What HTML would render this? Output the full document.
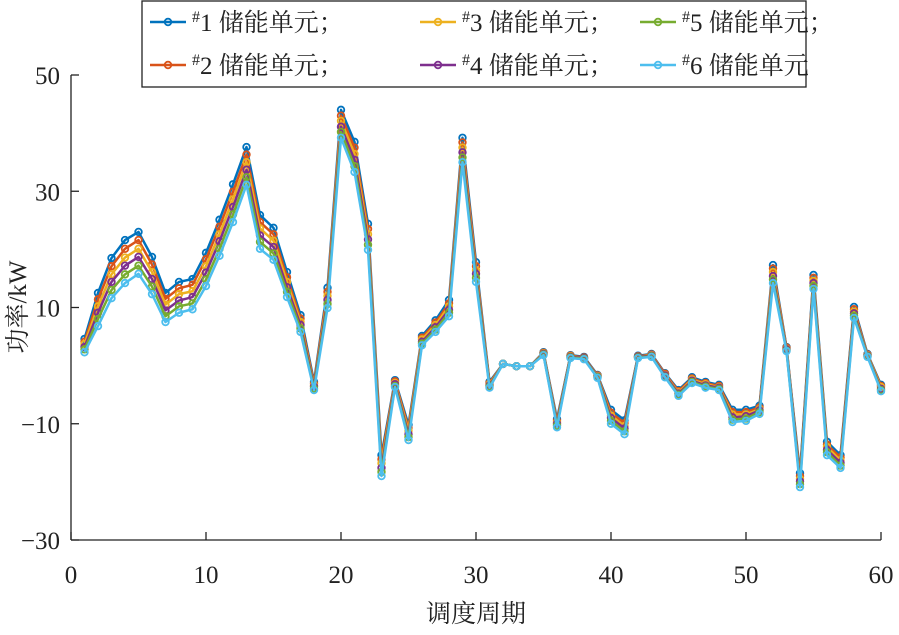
<!DOCTYPE html>
<html><head><meta charset="utf-8"><style>
body{margin:0;background:#fff;}
svg text{font-family:"Liberation Serif","Noto Serif CJK SC","Noto Sans CJK SC",serif;fill:#222;}
</style></head><body>
<svg id="chart" width="899" height="630" viewBox="0 0 899 630" xmlns="http://www.w3.org/2000/svg">
<g id="axes"></g>
<g id="series"></g>
<g id="legend"></g>
</svg>
<script>
const periods = Array.from({length:60},(_,i)=>i+1);
const xTicks = [0,10,20,30,40,50,60];
const yTicks = [50,30,10,-10,-30];
const seriesNames = ["#1 储能单元；","#2 储能单元；","#3 储能单元；","#4 储能单元；","#5 储能单元；","#6 储能单元"];
const unit1 = [4.6,12.5,18.5,21.6,23.0,18.7,12.5,14.4,14.9,19.4,25.1,31.2,37.6,25.9,23.7,16.1,8.7,-2.8,13.4,44.0,38.5,24.4,-15.4,-2.5,-10.2,5.1,7.8,11.3,39.2,17.8,-2.8,0.3,-0.1,-0.1,2.3,-9.2,1.8,1.5,-1.6,-7.6,-9.4,1.7,2.0,-1.3,-4.2,-2.0,-2.8,-3.3,-7.6,-7.6,-6.9,17.3,3.2,-18.5,15.6,-13.1,-15.4,10.1,2.0,-3.3];
const unit2 = [4.1,11.4,17.1,20.1,21.6,17.4,11.5,13.3,13.9,18.3,23.9,29.9,36.3,24.7,22.6,15.2,8.1,-3.1,12.7,43.0,37.5,23.5,-16.1,-2.7,-10.7,4.8,7.4,10.7,38.4,17.1,-3.0,0.3,-0.1,-0.1,2.2,-9.5,1.7,1.4,-1.7,-8.1,-9.9,1.6,1.9,-1.4,-4.4,-2.2,-3.0,-3.5,-8.0,-8.0,-7.2,16.7,3.1,-19.0,15.1,-13.6,-15.8,9.7,1.9,-3.5];
const unit3 = [3.7,10.2,15.7,18.6,20.1,16.1,10.5,12.3,12.8,17.1,22.6,28.6,35.0,23.6,21.5,14.4,7.5,-3.4,12.0,42.1,36.4,22.6,-16.8,-3.0,-11.2,4.5,7.0,10.2,37.5,16.4,-3.2,0.3,-0.1,-0.1,2.1,-9.8,1.6,1.3,-1.8,-8.6,-10.4,1.5,1.8,-1.6,-4.6,-2.4,-3.2,-3.7,-8.4,-8.4,-7.5,16.1,2.9,-19.5,14.6,-14.0,-16.3,9.3,1.8,-3.7];
const unit4 = [3.2,9.1,14.4,17.2,18.7,14.9,9.5,11.2,11.8,16.0,21.4,27.3,33.7,22.4,20.4,13.5,7.0,-3.6,11.3,41.1,35.4,21.7,-17.6,-3.2,-11.8,4.1,6.6,9.6,36.7,15.8,-3.4,0.3,-0.1,-0.1,2.0,-10.0,1.5,1.3,-1.9,-9.0,-10.8,1.5,1.7,-1.7,-4.8,-2.6,-3.4,-3.8,-8.9,-8.7,-7.7,15.4,2.8,-19.9,14.2,-14.5,-16.7,9.0,1.7,-4.0];
const unit5 = [2.8,8.0,13.0,15.7,17.2,13.6,8.5,10.2,10.7,14.8,20.1,26.0,32.4,21.3,19.3,12.7,6.4,-3.9,10.6,40.2,34.3,20.8,-18.3,-3.5,-12.3,3.8,6.2,9.1,35.8,15.1,-3.6,0.3,-0.1,-0.1,1.9,-10.3,1.4,1.2,-2.0,-9.5,-11.3,1.4,1.6,-1.9,-5.0,-2.8,-3.6,-4.0,-9.3,-9.1,-8.0,14.8,2.6,-20.4,13.7,-14.9,-17.2,8.6,1.6,-4.2];
const unit6 = [2.3,6.8,11.6,14.2,15.8,12.3,7.5,9.1,9.7,13.7,18.9,24.7,31.1,20.1,18.2,11.8,5.8,-4.2,9.9,39.2,33.3,19.9,-19.0,-3.7,-12.8,3.5,5.8,8.5,35.0,14.4,-3.8,0.3,-0.1,-0.1,1.8,-10.6,1.3,1.1,-2.1,-10.0,-11.8,1.3,1.5,-2.0,-5.2,-3.0,-3.8,-4.2,-9.7,-9.5,-8.3,14.2,2.5,-20.9,13.2,-15.4,-17.6,8.2,1.5,-4.4];

const allSeries=[unit1,unit2,unit3,unit4,unit5,unit6];
const colors=["#0072BD","#D95319","#EDB120","#7E2F8E","#77AC30","#4DBEEE"];
const NS="http://www.w3.org/2000/svg";
const X0=71,X1=881,Y0=540,Y1=75;
function sx(v){return X0+(v-0)/(60-0)*(X1-X0);}
function sy(v){return Y0-(v+30)/(80)*(Y0-Y1);}
function mk(tag,attrs,parent){const e=document.createElementNS(NS,tag);for(const k in attrs)e.setAttribute(k,attrs[k]);parent.appendChild(e);return e;}
const axes=document.getElementById('axes');
let e=mk('line',{x1:X0,y1:Y1,x2:X0,y2:Y0,stroke:'#222','stroke-width':1.3},axes);


e=mk('line',{x1:X0,y1:Y0,x2:X1,y2:Y0,stroke:'#222','stroke-width':1.3},axes);


xTicks.forEach(t=>{
  const tk=mk('line',{x1:sx(t),y1:Y0,x2:sx(t),y2:Y0-8,stroke:'#222','stroke-width':1.3},axes);
  
  
  const tx=mk('text',{x:sx(t),y:583,'text-anchor':'middle','font-size':25},axes);
  tx.textContent=t;
  
  
});
yTicks.forEach(t=>{
  const tk=mk('line',{x1:X0,y1:sy(t),x2:X0+8,y2:sy(t),stroke:'#222','stroke-width':1.3},axes);
  
  
  const tx=mk('text',{x:60,y:sy(t)+9,'text-anchor':'end','font-size':25},axes);
  tx.textContent=t<0?'\u2212'+Math.abs(t):t;
  
  
});
e=mk('text',{x:476,y:622,'text-anchor':'middle','font-size':25},axes);
e.textContent='调度周期';


e=mk('text',{x:0,y:0,'text-anchor':'middle','font-size':25,transform:'translate(26,307) rotate(-90)'},axes);
e.textContent='功率/kW';



const sg=document.getElementById('series');
allSeries.forEach((arr,si)=>{
  const g=mk('g',{},sg);
  
  
  const pts=arr.map((v,i)=>sx(periods[i])+','+sy(v)).join(' ');
  const pl=mk('polyline',{points:pts,fill:'none',stroke:colors[si],'stroke-width':2.5,'stroke-linejoin':'round'},g);
  
  
  arr.forEach((v,i)=>{
    const c=mk('circle',{cx:sx(periods[i]),cy:sy(v),r:3.3,fill:'none',stroke:colors[si],'stroke-width':1.8},g);
    
    
  });
});

const lg=document.getElementById('legend');
e=mk('rect',{x:142,y:1,width:664,height:86,fill:'#fff',stroke:'#222','stroke-width':1.3},lg);


const colX=[150,420,640];
const rowY=[22,65];
const order=[[0,0],[1,0],[0,1],[1,1],[0,2],[1,2]];
seriesNames.forEach((n,si)=>{
  const [r,c]=order[si];
  const x=colX[c],y=rowY[r];
  const g=mk('g',{},lg);
  
  
  mk('line',{x1:x,y1:y,x2:x+36,y2:y,stroke:colors[si],'stroke-width':2.5},g);
  mk('circle',{cx:x+18,cy:y,r:3.3,fill:'none',stroke:colors[si],'stroke-width':1.8},g);
  const t=mk('text',{x:x+42,y:y+9,'font-size':25},g);
  const sup=n.slice(0,1), rest=n.slice(1);
  const ts=mk('tspan',{'font-size':16,dy:-9},t); ts.textContent=sup;
  const tr=mk('tspan',{dy:9},t); tr.textContent=rest;
});
</script>
</body></html>
